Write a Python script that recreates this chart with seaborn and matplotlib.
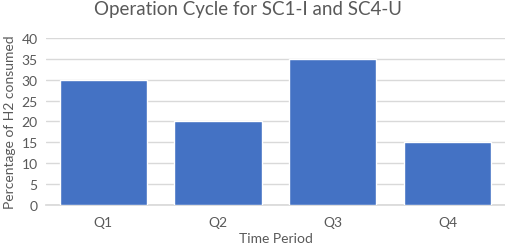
import matplotlib
matplotlib.use("Agg")
import matplotlib.pyplot as plt
import seaborn as sns
import pandas as pd

# data
periods = ["Q1", "Q2", "Q3", "Q4"]
h2_consumed = [30, 20, 35, 15]
y_ticks = [0, 5, 10, 15, 20, 25, 30, 35, 40]

TEXT_COLOR = "#595959"
BAR_COLOR = "#4472C4"

sns.set_theme(style="white")
plt.rcParams['font.family'] = ['Lato', 'DejaVu Sans']

df = pd.DataFrame({"period": periods, "value": h2_consumed})

fig = plt.figure(figsize=(5.05, 2.51), dpi=100)
ax = fig.add_axes([0.091, 0.179, 0.909, 0.666])

sns.barplot(data=df, x="period", y="value", color=BAR_COLOR, width=0.76,
            saturation=1, ax=ax, zorder=3)

ax.set_ylim(0, 40)
ax.set_yticks(y_ticks)
ax.yaxis.grid(True, color="#d9d9d9", linewidth=1, zorder=0)
ax.set_axisbelow(True)
for s in ["top", "right", "left"]:
    ax.spines[s].set_visible(False)
ax.spines["bottom"].set_color("#d9d9d9")
ax.tick_params(axis="both", length=0, labelsize=10, colors=TEXT_COLOR, pad=6)
ax.tick_params(axis="x", pad=8)

ax.set_xlabel("Time Period", fontsize=10, color=TEXT_COLOR, labelpad=3)
ax.set_ylabel("Percentage of H2 consumed", fontsize=10, color=TEXT_COLOR, labelpad=4)
fig.suptitle("Operation Cycle for SC1-I and SC4-U", fontsize=13.5, color=TEXT_COLOR,
             x=0.49, y=0.995)

fig.savefig("out.png", dpi=100)
